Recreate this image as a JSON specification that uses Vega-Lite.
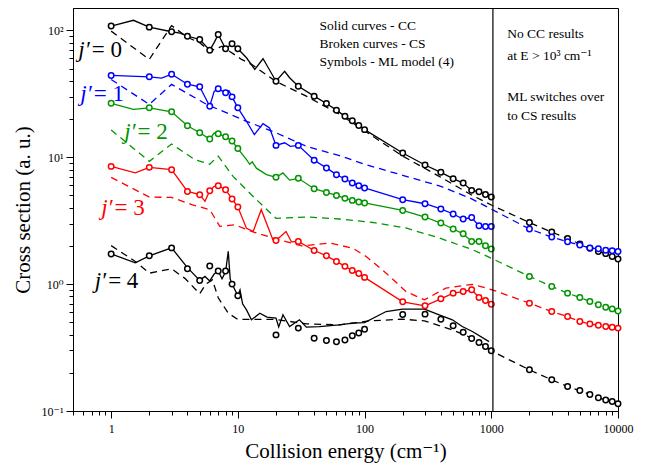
{
"$schema":"https://vega.github.io/schema/vega-lite/v6.json",
"width":545,"height":403,"autosize":"none",
"padding":{"left":73,"top":8,"right":27,"bottom":55},
"background":"white",
"config":{"view":{"stroke":"black","strokeWidth":1},"font":"Times New Roman, Liberation Serif, DejaVu Serif, serif","text":{"font":"Times New Roman, Liberation Serif, DejaVu Serif, serif"}},
"datasets":{
"pts":[
{"E":1,"s":108,"j":"0","t":"ML"},{"E":2,"s":106,"j":"0","t":"ML"},{"E":3,"s":97.5,"j":"0","t":"ML"},{"E":4,"s":90,"j":"0","t":"ML"},{"E":5,"s":84.7,"j":"0","t":"ML"},{"E":6,"s":69.8,"j":"0","t":"ML"},{"E":7,"s":92.9,"j":"0","t":"ML"},{"E":8,"s":71.6,"j":"0","t":"ML"},{"E":9,"s":78.4,"j":"0","t":"ML"},{"E":10,"s":71.6,"j":"0","t":"ML"},{"E":20,"s":39.7,"j":"0","t":"ML"},{"E":30,"s":36.3,"j":"0","t":"ML"},{"E":40,"s":30.3,"j":"0","t":"ML"},{"E":50,"s":26.5,"j":"0","t":"ML"},{"E":60,"s":23.5,"j":"0","t":"ML"},{"E":70,"s":21,"j":"0","t":"ML"},{"E":80,"s":19.4,"j":"0","t":"ML"},{"E":90,"s":17.8,"j":"0","t":"ML"},{"E":100,"s":16.5,"j":"0","t":"ML"},{"E":200,"s":10.8,"j":"0","t":"ML"},{"E":300,"s":8.69,"j":"0","t":"ML"},{"E":400,"s":7.6,"j":"0","t":"ML"},{"E":500,"s":6.78,"j":"0","t":"ML"},{"E":600,"s":6.26,"j":"0","t":"ML"},{"E":700,"s":5.48,"j":"0","t":"ML"},{"E":800,"s":5.35,"j":"0","t":"ML"},{"E":900,"s":5.09,"j":"0","t":"ML"},{"E":1000,"s":4.86,"j":"0","t":"ML"},{"E":2000,"s":3.06,"j":"0","t":"ML"},{"E":3000,"s":2.57,"j":"0","t":"ML"},{"E":4000,"s":2.29,"j":"0","t":"ML"},{"E":5000,"s":2.07,"j":"0","t":"ML"},{"E":6000,"s":1.92,"j":"0","t":"ML"},{"E":7000,"s":1.81,"j":"0","t":"ML"},{"E":8000,"s":1.74,"j":"0","t":"ML"},{"E":9000,"s":1.65,"j":"0","t":"ML"},{"E":10000,"s":1.58,"j":"0","t":"ML"},
{"E":1,"s":108,"j":"0","t":"CC"},{"E":1.5,"s":120,"j":"0","t":"CC"},{"E":2,"s":106,"j":"0","t":"CC"},{"E":3,"s":97.5,"j":"0","t":"CC"},{"E":3.5,"s":95,"j":"0","t":"CC"},{"E":4,"s":90,"j":"0","t":"CC"},{"E":5,"s":84.7,"j":"0","t":"CC"},{"E":6,"s":69.8,"j":"0","t":"CC"},{"E":6.5,"s":80,"j":"0","t":"CC"},{"E":7,"s":92.9,"j":"0","t":"CC"},{"E":8,"s":71.6,"j":"0","t":"CC"},{"E":9,"s":78.4,"j":"0","t":"CC"},{"E":10,"s":71.6,"j":"0","t":"CC"},{"E":11.7,"s":60.8,"j":"0","t":"CC"},{"E":13.6,"s":49.2,"j":"0","t":"CC"},{"E":15.8,"s":59.7,"j":"0","t":"CC"},{"E":16.8,"s":53.8,"j":"0","t":"CC"},{"E":20,"s":39.7,"j":"0","t":"CC"},{"E":23.4,"s":47.6,"j":"0","t":"CC"},{"E":25.6,"s":42.3,"j":"0","t":"CC"},{"E":30,"s":36.3,"j":"0","t":"CC"},{"E":40,"s":30.3,"j":"0","t":"CC"},{"E":50,"s":26.5,"j":"0","t":"CC"},{"E":60,"s":23.5,"j":"0","t":"CC"},{"E":70,"s":21,"j":"0","t":"CC"},{"E":80,"s":19.4,"j":"0","t":"CC"},{"E":90,"s":17.8,"j":"0","t":"CC"},{"E":100,"s":16.5,"j":"0","t":"CC"},{"E":200,"s":10.8,"j":"0","t":"CC"},{"E":300,"s":8.69,"j":"0","t":"CC"},{"E":400,"s":7.6,"j":"0","t":"CC"},{"E":500,"s":6.78,"j":"0","t":"CC"},{"E":600,"s":6.26,"j":"0","t":"CC"},{"E":700,"s":5.48,"j":"0","t":"CC"},{"E":800,"s":5.35,"j":"0","t":"CC"},{"E":900,"s":5.09,"j":"0","t":"CC"},{"E":1000,"s":4.86,"j":"0","t":"CC"},
{"E":1,"s":98.6,"j":"0","t":"CS"},{"E":2,"s":59,"j":"0","t":"CS"},{"E":3,"s":109,"j":"0","t":"CS"},{"E":4,"s":88,"j":"0","t":"CS"},{"E":5,"s":80,"j":"0","t":"CS"},{"E":6,"s":68.5,"j":"0","t":"CS"},{"E":7.5,"s":75,"j":"0","t":"CS"},{"E":10.7,"s":59,"j":"0","t":"CS"},{"E":12.8,"s":54,"j":"0","t":"CS"},{"E":20,"s":39.5,"j":"0","t":"CS"},{"E":34.7,"s":30.3,"j":"0","t":"CS"},{"E":63.4,"s":21.8,"j":"0","t":"CS"},{"E":96.7,"s":16.5,"j":"0","t":"CS"},{"E":200,"s":10.2,"j":"0","t":"CS"},{"E":388,"s":7.07,"j":"0","t":"CS"},{"E":709,"s":5.0,"j":"0","t":"CS"},{"E":1000,"s":4.2,"j":"0","t":"CS"},{"E":2000,"s":3.06,"j":"0","t":"CS"},{"E":3000,"s":2.57,"j":"0","t":"CS"},{"E":4000,"s":2.29,"j":"0","t":"CS"},{"E":5000,"s":2.07,"j":"0","t":"CS"},{"E":6000,"s":1.92,"j":"0","t":"CS"},{"E":7000,"s":1.81,"j":"0","t":"CS"},{"E":8000,"s":1.74,"j":"0","t":"CS"},{"E":9000,"s":1.65,"j":"0","t":"CS"},{"E":10000,"s":1.58,"j":"0","t":"CS"},

{"E":1,"s":44.1,"j":"1","t":"ML"},{"E":2,"s":43,"j":"1","t":"ML"},{"E":3,"s":45.1,"j":"1","t":"ML"},{"E":4,"s":37.6,"j":"1","t":"ML"},{"E":5,"s":35.9,"j":"1","t":"ML"},{"E":6,"s":25.2,"j":"1","t":"ML"},{"E":7,"s":34.6,"j":"1","t":"ML"},{"E":8,"s":32.2,"j":"1","t":"ML"},{"E":9,"s":29.9,"j":"1","t":"ML"},{"E":10,"s":24.5,"j":"1","t":"ML"},{"E":20,"s":12.4,"j":"1","t":"ML"},{"E":30,"s":12.4,"j":"1","t":"ML"},{"E":40,"s":9.46,"j":"1","t":"ML"},{"E":50,"s":8.24,"j":"1","t":"ML"},{"E":60,"s":7.29,"j":"1","t":"ML"},{"E":70,"s":6.74,"j":"1","t":"ML"},{"E":80,"s":6.27,"j":"1","t":"ML"},{"E":90,"s":5.97,"j":"1","t":"ML"},{"E":100,"s":5.73,"j":"1","t":"ML"},{"E":200,"s":4.63,"j":"1","t":"ML"},{"E":300,"s":4.3,"j":"1","t":"ML"},{"E":400,"s":3.91,"j":"1","t":"ML"},{"E":500,"s":3.57,"j":"1","t":"ML"},{"E":600,"s":3.26,"j":"1","t":"ML"},{"E":700,"s":3.35,"j":"1","t":"ML"},{"E":800,"s":2.88,"j":"1","t":"ML"},{"E":900,"s":2.85,"j":"1","t":"ML"},{"E":1000,"s":2.85,"j":"1","t":"ML"},{"E":2000,"s":2.72,"j":"1","t":"ML"},{"E":3000,"s":2.35,"j":"1","t":"ML"},{"E":4000,"s":2.16,"j":"1","t":"ML"},{"E":5000,"s":2.03,"j":"1","t":"ML"},{"E":6000,"s":1.93,"j":"1","t":"ML"},{"E":7000,"s":1.9,"j":"1","t":"ML"},{"E":8000,"s":1.85,"j":"1","t":"ML"},{"E":9000,"s":1.83,"j":"1","t":"ML"},{"E":10000,"s":1.81,"j":"1","t":"ML"},
{"E":1,"s":44.1,"j":"1","t":"CC"},{"E":2,"s":43,"j":"1","t":"CC"},{"E":2.5,"s":42,"j":"1","t":"CC"},{"E":3,"s":45.1,"j":"1","t":"CC"},{"E":4,"s":37.6,"j":"1","t":"CC"},{"E":5,"s":35.9,"j":"1","t":"CC"},{"E":6,"s":25.2,"j":"1","t":"CC"},{"E":6.5,"s":33,"j":"1","t":"CC"},{"E":7,"s":34.6,"j":"1","t":"CC"},{"E":8,"s":32.2,"j":"1","t":"CC"},{"E":8.5,"s":33.5,"j":"1","t":"CC"},{"E":9,"s":29.9,"j":"1","t":"CC"},{"E":10,"s":24.5,"j":"1","t":"CC"},{"E":11.7,"s":19.2,"j":"1","t":"CC"},{"E":13.5,"s":15.1,"j":"1","t":"CC"},{"E":15.8,"s":18.4,"j":"1","t":"CC"},{"E":17.8,"s":17,"j":"1","t":"CC"},{"E":20,"s":12.4,"j":"1","t":"CC"},{"E":23.4,"s":13,"j":"1","t":"CC"},{"E":26,"s":12.2,"j":"1","t":"CC"},{"E":30,"s":12.4,"j":"1","t":"CC"},{"E":40,"s":9.46,"j":"1","t":"CC"},{"E":50,"s":8.24,"j":"1","t":"CC"},{"E":60,"s":7.29,"j":"1","t":"CC"},{"E":70,"s":6.74,"j":"1","t":"CC"},{"E":80,"s":6.27,"j":"1","t":"CC"},{"E":90,"s":5.97,"j":"1","t":"CC"},{"E":100,"s":5.73,"j":"1","t":"CC"},{"E":200,"s":4.63,"j":"1","t":"CC"},{"E":300,"s":4.3,"j":"1","t":"CC"},{"E":400,"s":3.91,"j":"1","t":"CC"},{"E":500,"s":3.57,"j":"1","t":"CC"},{"E":600,"s":3.26,"j":"1","t":"CC"},{"E":700,"s":3.35,"j":"1","t":"CC"},{"E":800,"s":2.88,"j":"1","t":"CC"},{"E":900,"s":2.85,"j":"1","t":"CC"},{"E":1000,"s":2.85,"j":"1","t":"CC"},
{"E":1,"s":41,"j":"1","t":"CS"},{"E":2,"s":26.1,"j":"1","t":"CS"},{"E":3,"s":37.5,"j":"1","t":"CS"},{"E":5.66,"s":26.1,"j":"1","t":"CS"},{"E":11.7,"s":19.2,"j":"1","t":"CS"},{"E":20,"s":15.6,"j":"1","t":"CS"},{"E":34.7,"s":12.2,"j":"1","t":"CS"},{"E":63.4,"s":10.3,"j":"1","t":"CS"},{"E":100,"s":8.8,"j":"1","t":"CS"},{"E":200,"s":7.2,"j":"1","t":"CS"},{"E":400,"s":5.9,"j":"1","t":"CS"},{"E":700,"s":4.7,"j":"1","t":"CS"},{"E":1000,"s":3.9,"j":"1","t":"CS"},{"E":2000,"s":2.72,"j":"1","t":"CS"},{"E":3000,"s":2.35,"j":"1","t":"CS"},{"E":4000,"s":2.16,"j":"1","t":"CS"},{"E":5000,"s":2.03,"j":"1","t":"CS"},{"E":6000,"s":1.93,"j":"1","t":"CS"},{"E":7000,"s":1.9,"j":"1","t":"CS"},{"E":8000,"s":1.85,"j":"1","t":"CS"},{"E":9000,"s":1.83,"j":"1","t":"CS"},{"E":10000,"s":1.81,"j":"1","t":"CS"},

{"E":1,"s":26.6,"j":"2","t":"ML"},{"E":2,"s":24.5,"j":"2","t":"ML"},{"E":3,"s":22.8,"j":"2","t":"ML"},{"E":4,"s":17.7,"j":"2","t":"ML"},{"E":5,"s":15.6,"j":"2","t":"ML"},{"E":6,"s":13.9,"j":"2","t":"ML"},{"E":7,"s":15.3,"j":"2","t":"ML"},{"E":8,"s":14.5,"j":"2","t":"ML"},{"E":9,"s":13.4,"j":"2","t":"ML"},{"E":10,"s":11.7,"j":"2","t":"ML"},{"E":20,"s":6.95,"j":"2","t":"ML"},{"E":30,"s":6.82,"j":"2","t":"ML"},{"E":40,"s":5.65,"j":"2","t":"ML"},{"E":50,"s":5.28,"j":"2","t":"ML"},{"E":60,"s":5,"j":"2","t":"ML"},{"E":70,"s":4.74,"j":"2","t":"ML"},{"E":80,"s":4.57,"j":"2","t":"ML"},{"E":90,"s":4.44,"j":"2","t":"ML"},{"E":100,"s":4.36,"j":"2","t":"ML"},{"E":200,"s":3.81,"j":"2","t":"ML"},{"E":300,"s":3.38,"j":"2","t":"ML"},{"E":400,"s":3.03,"j":"2","t":"ML"},{"E":500,"s":2.72,"j":"2","t":"ML"},{"E":600,"s":2.49,"j":"2","t":"ML"},{"E":700,"s":2.17,"j":"2","t":"ML"},{"E":800,"s":2.17,"j":"2","t":"ML"},{"E":900,"s":2.01,"j":"2","t":"ML"},{"E":1000,"s":1.89,"j":"2","t":"ML"},{"E":2000,"s":1.15,"j":"2","t":"ML"},{"E":3000,"s":0.957,"j":"2","t":"ML"},{"E":4000,"s":0.849,"j":"2","t":"ML"},{"E":5000,"s":0.784,"j":"2","t":"ML"},{"E":6000,"s":0.729,"j":"2","t":"ML"},{"E":7000,"s":0.687,"j":"2","t":"ML"},{"E":8000,"s":0.658,"j":"2","t":"ML"},{"E":9000,"s":0.638,"j":"2","t":"ML"},{"E":10000,"s":0.615,"j":"2","t":"ML"},
{"E":1,"s":26.6,"j":"2","t":"CC"},{"E":1.5,"s":23.8,"j":"2","t":"CC"},{"E":2,"s":24.5,"j":"2","t":"CC"},{"E":3,"s":22.8,"j":"2","t":"CC"},{"E":4,"s":17.7,"j":"2","t":"CC"},{"E":5,"s":15.6,"j":"2","t":"CC"},{"E":6,"s":13.9,"j":"2","t":"CC"},{"E":6.5,"s":15.5,"j":"2","t":"CC"},{"E":7,"s":15.3,"j":"2","t":"CC"},{"E":8,"s":14.5,"j":"2","t":"CC"},{"E":9,"s":13.4,"j":"2","t":"CC"},{"E":10,"s":11.7,"j":"2","t":"CC"},{"E":11.7,"s":9.57,"j":"2","t":"CC"},{"E":12.4,"s":8.8,"j":"2","t":"CC"},{"E":13,"s":9.2,"j":"2","t":"CC"},{"E":14,"s":8.2,"j":"2","t":"CC"},{"E":16.8,"s":7.29,"j":"2","t":"CC"},{"E":20,"s":6.95,"j":"2","t":"CC"},{"E":22.7,"s":7.52,"j":"2","t":"CC"},{"E":25.6,"s":6.6,"j":"2","t":"CC"},{"E":30,"s":6.82,"j":"2","t":"CC"},{"E":40,"s":5.65,"j":"2","t":"CC"},{"E":50,"s":5.28,"j":"2","t":"CC"},{"E":60,"s":5,"j":"2","t":"CC"},{"E":70,"s":4.74,"j":"2","t":"CC"},{"E":80,"s":4.57,"j":"2","t":"CC"},{"E":90,"s":4.44,"j":"2","t":"CC"},{"E":100,"s":4.36,"j":"2","t":"CC"},{"E":200,"s":3.81,"j":"2","t":"CC"},{"E":300,"s":3.38,"j":"2","t":"CC"},{"E":400,"s":3.03,"j":"2","t":"CC"},{"E":500,"s":2.72,"j":"2","t":"CC"},{"E":600,"s":2.49,"j":"2","t":"CC"},{"E":700,"s":2.17,"j":"2","t":"CC"},{"E":800,"s":2.17,"j":"2","t":"CC"},{"E":900,"s":2.01,"j":"2","t":"CC"},{"E":1000,"s":1.89,"j":"2","t":"CC"},
{"E":1,"s":16.4,"j":"2","t":"CS"},{"E":2,"s":9.28,"j":"2","t":"CS"},{"E":3,"s":12.7,"j":"2","t":"CS"},{"E":4.58,"s":9.57,"j":"2","t":"CS"},{"E":6,"s":8.82,"j":"2","t":"CS"},{"E":7,"s":10.2,"j":"2","t":"CS"},{"E":9.16,"s":7.07,"j":"2","t":"CS"},{"E":13.2,"s":4.91,"j":"2","t":"CS"},{"E":20,"s":3.3,"j":"2","t":"CS"},{"E":34.7,"s":3.38,"j":"2","t":"CS"},{"E":63.4,"s":3.26,"j":"2","t":"CS"},{"E":116,"s":3.06,"j":"2","t":"CS"},{"E":212,"s":2.77,"j":"2","t":"CS"},{"E":388,"s":2.31,"j":"2","t":"CS"},{"E":709,"s":1.87,"j":"2","t":"CS"},{"E":1000,"s":1.6,"j":"2","t":"CS"},{"E":2000,"s":1.15,"j":"2","t":"CS"},{"E":3000,"s":0.957,"j":"2","t":"CS"},{"E":4000,"s":0.849,"j":"2","t":"CS"},{"E":5000,"s":0.784,"j":"2","t":"CS"},{"E":6000,"s":0.729,"j":"2","t":"CS"},{"E":7000,"s":0.687,"j":"2","t":"CS"},{"E":8000,"s":0.658,"j":"2","t":"CS"},{"E":9000,"s":0.638,"j":"2","t":"CS"},{"E":10000,"s":0.615,"j":"2","t":"CS"},

{"E":1,"s":8.47,"j":"3","t":"ML"},{"E":2,"s":8.32,"j":"3","t":"ML"},{"E":3,"s":7.98,"j":"3","t":"ML"},{"E":4,"s":5.38,"j":"3","t":"ML"},{"E":5,"s":5.07,"j":"3","t":"ML"},{"E":6,"s":5.45,"j":"3","t":"ML"},{"E":7,"s":5.97,"j":"3","t":"ML"},{"E":8,"s":5.55,"j":"3","t":"ML"},{"E":9,"s":4.69,"j":"3","t":"ML"},{"E":10,"s":4.05,"j":"3","t":"ML"},{"E":20,"s":2.21,"j":"3","t":"ML"},{"E":30,"s":2.17,"j":"3","t":"ML"},{"E":40,"s":1.84,"j":"3","t":"ML"},{"E":50,"s":1.67,"j":"3","t":"ML"},{"E":60,"s":1.51,"j":"3","t":"ML"},{"E":70,"s":1.38,"j":"3","t":"ML"},{"E":80,"s":1.28,"j":"3","t":"ML"},{"E":90,"s":1.21,"j":"3","t":"ML"},{"E":100,"s":1.13,"j":"3","t":"ML"},{"E":200,"s":0.725,"j":"3","t":"ML"},{"E":300,"s":0.674,"j":"3","t":"ML"},{"E":400,"s":0.766,"j":"3","t":"ML"},{"E":500,"s":0.849,"j":"3","t":"ML"},{"E":600,"s":0.874,"j":"3","t":"ML"},{"E":700,"s":0.902,"j":"3","t":"ML"},{"E":800,"s":0.784,"j":"3","t":"ML"},{"E":900,"s":0.743,"j":"3","t":"ML"},{"E":1000,"s":0.695,"j":"3","t":"ML"},{"E":2000,"s":0.708,"j":"3","t":"ML"},{"E":3000,"s":0.608,"j":"3","t":"ML"},{"E":4000,"s":0.555,"j":"3","t":"ML"},{"E":5000,"s":0.507,"j":"3","t":"ML"},{"E":6000,"s":0.486,"j":"3","t":"ML"},{"E":7000,"s":0.474,"j":"3","t":"ML"},{"E":8000,"s":0.463,"j":"3","t":"ML"},{"E":9000,"s":0.458,"j":"3","t":"ML"},{"E":10000,"s":0.45,"j":"3","t":"ML"},
{"E":1,"s":8.47,"j":"3","t":"CC"},{"E":1.55,"s":7.52,"j":"3","t":"CC"},{"E":2,"s":8.32,"j":"3","t":"CC"},{"E":3,"s":7.98,"j":"3","t":"CC"},{"E":4,"s":5.38,"j":"3","t":"CC"},{"E":5,"s":5.07,"j":"3","t":"CC"},{"E":5.5,"s":4.49,"j":"3","t":"CC"},{"E":6,"s":5.45,"j":"3","t":"CC"},{"E":6.5,"s":5.9,"j":"3","t":"CC"},{"E":7,"s":5.97,"j":"3","t":"CC"},{"E":8,"s":5.55,"j":"3","t":"CC"},{"E":9,"s":4.69,"j":"3","t":"CC"},{"E":10,"s":4.05,"j":"3","t":"CC"},{"E":11.7,"s":2.75,"j":"3","t":"CC"},{"E":13.2,"s":2.6,"j":"3","t":"CC"},{"E":15.3,"s":3.86,"j":"3","t":"CC"},{"E":18.9,"s":2.24,"j":"3","t":"CC"},{"E":20,"s":2.21,"j":"3","t":"CC"},{"E":24,"s":2.6,"j":"3","t":"CC"},{"E":26.5,"s":2.15,"j":"3","t":"CC"},{"E":30,"s":2.17,"j":"3","t":"CC"},{"E":40,"s":1.84,"j":"3","t":"CC"},{"E":50,"s":1.67,"j":"3","t":"CC"},{"E":60,"s":1.51,"j":"3","t":"CC"},{"E":70,"s":1.38,"j":"3","t":"CC"},{"E":80,"s":1.28,"j":"3","t":"CC"},{"E":90,"s":1.21,"j":"3","t":"CC"},{"E":100,"s":1.13,"j":"3","t":"CC"},{"E":200,"s":0.725,"j":"3","t":"CC"},{"E":300,"s":0.674,"j":"3","t":"CC"},{"E":400,"s":0.766,"j":"3","t":"CC"},{"E":500,"s":0.849,"j":"3","t":"CC"},{"E":600,"s":0.874,"j":"3","t":"CC"},{"E":700,"s":0.902,"j":"3","t":"CC"},{"E":800,"s":0.784,"j":"3","t":"CC"},{"E":900,"s":0.743,"j":"3","t":"CC"},{"E":1000,"s":0.695,"j":"3","t":"CC"},
{"E":1,"s":6.93,"j":"3","t":"CS"},{"E":2,"s":4.86,"j":"3","t":"CS"},{"E":3,"s":4.82,"j":"3","t":"CS"},{"E":4.38,"s":4.22,"j":"3","t":"CS"},{"E":6,"s":3.86,"j":"3","t":"CS"},{"E":6.7,"s":3.22,"j":"3","t":"CS"},{"E":7.2,"s":2.85,"j":"3","t":"CS"},{"E":9.46,"s":2.94,"j":"3","t":"CS"},{"E":12.8,"s":2.6,"j":"3","t":"CS"},{"E":18.9,"s":2.31,"j":"3","t":"CS"},{"E":32,"s":2.0,"j":"3","t":"CS"},{"E":52.9,"s":2.11,"j":"3","t":"CS"},{"E":80.6,"s":1.92,"j":"3","t":"CS"},{"E":103,"s":1.65,"j":"3","t":"CS"},{"E":148,"s":1.22,"j":"3","t":"CS"},{"E":212,"s":0.874,"j":"3","t":"CS"},{"E":297,"s":0.752,"j":"3","t":"CS"},{"E":438,"s":0.93,"j":"3","t":"CS"},{"E":709,"s":0.996,"j":"3","t":"CS"},{"E":1018,"s":0.902,"j":"3","t":"CS"},{"E":2000,"s":0.708,"j":"3","t":"CS"},{"E":3000,"s":0.608,"j":"3","t":"CS"},{"E":4000,"s":0.555,"j":"3","t":"CS"},{"E":5000,"s":0.507,"j":"3","t":"CS"},{"E":6000,"s":0.486,"j":"3","t":"CS"},{"E":7000,"s":0.474,"j":"3","t":"CS"},{"E":8000,"s":0.463,"j":"3","t":"CS"},{"E":9000,"s":0.458,"j":"3","t":"CS"},{"E":10000,"s":0.45,"j":"3","t":"CS"},

{"E":1,"s":1.73,"j":"4","t":"ML"},{"E":2,"s":1.67,"j":"4","t":"ML"},{"E":3,"s":1.93,"j":"4","t":"ML"},{"E":4,"s":1.32,"j":"4","t":"ML"},{"E":5,"s":1.07,"j":"4","t":"ML"},{"E":6,"s":1.39,"j":"4","t":"ML"},{"E":7,"s":1.27,"j":"4","t":"ML"},{"E":8,"s":1.27,"j":"4","t":"ML"},{"E":9,"s":1.0,"j":"4","t":"ML"},{"E":10,"s":0.809,"j":"4","t":"ML"},{"E":20,"s":0.398,"j":"4","t":"ML"},{"E":30,"s":0.45,"j":"4","t":"ML"},{"E":40,"s":0.375,"j":"4","t":"ML"},{"E":50,"s":0.359,"j":"4","t":"ML"},{"E":60,"s":0.351,"j":"4","t":"ML"},{"E":70,"s":0.363,"j":"4","t":"ML"},{"E":80,"s":0.391,"j":"4","t":"ML"},{"E":90,"s":0.411,"j":"4","t":"ML"},{"E":100,"s":0.441,"j":"4","t":"ML"},{"E":200,"s":0.575,"j":"4","t":"ML"},{"E":300,"s":0.58,"j":"4","t":"ML"},{"E":400,"s":0.529,"j":"4","t":"ML"},{"E":500,"s":0.469,"j":"4","t":"ML"},{"E":600,"s":0.418,"j":"4","t":"ML"},{"E":700,"s":0.372,"j":"4","t":"ML"},{"E":800,"s":0.346,"j":"4","t":"ML"},{"E":900,"s":0.322,"j":"4","t":"ML"},{"E":1000,"s":0.298,"j":"4","t":"ML"},{"E":2000,"s":0.211,"j":"4","t":"ML"},{"E":3000,"s":0.176,"j":"4","t":"ML"},{"E":4000,"s":0.156,"j":"4","t":"ML"},{"E":5000,"s":0.145,"j":"4","t":"ML"},{"E":6000,"s":0.135,"j":"4","t":"ML"},{"E":7000,"s":0.127,"j":"4","t":"ML"},{"E":8000,"s":0.122,"j":"4","t":"ML"},{"E":9000,"s":0.119,"j":"4","t":"ML"},{"E":10000,"s":0.114,"j":"4","t":"ML"},
{"E":1,"s":1.73,"j":"4","t":"CC"},{"E":1.55,"s":1.47,"j":"4","t":"CC"},{"E":2,"s":1.67,"j":"4","t":"CC"},{"E":3,"s":1.93,"j":"4","t":"CC"},{"E":4,"s":1.35,"j":"4","t":"CC"},{"E":5,"s":1.07,"j":"4","t":"CC"},{"E":5.5,"s":1.15,"j":"4","t":"CC"},{"E":6,"s":1.06,"j":"4","t":"CC"},{"E":6.5,"s":1.2,"j":"4","t":"CC"},{"E":7,"s":1.27,"j":"4","t":"CC"},{"E":7.5,"s":1.1,"j":"4","t":"CC"},{"E":8,"s":1.25,"j":"4","t":"CC"},{"E":8.4,"s":1.81,"j":"4","t":"CC"},{"E":8.7,"s":1.1,"j":"4","t":"CC"},{"E":9,"s":1.0,"j":"4","t":"CC"},{"E":10,"s":0.809,"j":"4","t":"CC"},{"E":10.4,"s":0.9,"j":"4","t":"CC"},{"E":10.9,"s":0.7,"j":"4","t":"CC"},{"E":11.7,"s":0.627,"j":"4","t":"CC"},{"E":12.8,"s":0.523,"j":"4","t":"CC"},{"E":14.9,"s":0.59,"j":"4","t":"CC"},{"E":17,"s":0.55,"j":"4","t":"CC"},{"E":20,"s":0.539,"j":"4","t":"CC"},{"E":21,"s":0.46,"j":"4","t":"CC"},{"E":22.7,"s":0.573,"j":"4","t":"CC"},{"E":25.6,"s":0.463,"j":"4","t":"CC"},{"E":30.6,"s":0.523,"j":"4","t":"CC"},{"E":34.7,"s":0.458,"j":"4","t":"CC"},{"E":44,"s":0.463,"j":"4","t":"CC"},{"E":63,"s":0.477,"j":"4","t":"CC"},{"E":80.6,"s":0.492,"j":"4","t":"CC"},{"E":100,"s":0.497,"j":"4","t":"CC"},{"E":148,"s":0.608,"j":"4","t":"CC"},{"E":199,"s":0.635,"j":"4","t":"CC"},{"E":297,"s":0.635,"j":"4","t":"CC"},{"E":388,"s":0.573,"j":"4","t":"CC"},{"E":493,"s":0.523,"j":"4","t":"CC"},{"E":590,"s":0.463,"j":"4","t":"CC"},{"E":709,"s":0.423,"j":"4","t":"CC"},{"E":960,"s":0.352,"j":"4","t":"CC"},
{"E":1,"s":2.01,"j":"4","t":"CS"},{"E":1.55,"s":1.51,"j":"4","t":"CS"},{"E":2,"s":1.22,"j":"4","t":"CS"},{"E":3,"s":1.32,"j":"4","t":"CS"},{"E":3.82,"s":1.11,"j":"4","t":"CS"},{"E":5,"s":0.84,"j":"4","t":"CS"},{"E":5.6,"s":1.0,"j":"4","t":"CS"},{"E":6.3,"s":1.08,"j":"4","t":"CS"},{"E":7,"s":0.78,"j":"4","t":"CS"},{"E":8.4,"s":0.59,"j":"4","t":"CS"},{"E":10,"s":0.527,"j":"4","t":"CS"},{"E":20,"s":0.527,"j":"4","t":"CS"},{"E":34.7,"s":0.486,"j":"4","t":"CS"},{"E":63.4,"s":0.477,"j":"4","t":"CS"},{"E":109,"s":0.513,"j":"4","t":"CS"},{"E":199,"s":0.529,"j":"4","t":"CS"},{"E":297,"s":0.513,"j":"4","t":"CS"},{"E":493,"s":0.436,"j":"4","t":"CS"},{"E":709,"s":0.375,"j":"4","t":"CS"},{"E":1000,"s":0.298,"j":"4","t":"CS"},{"E":2000,"s":0.211,"j":"4","t":"CS"},{"E":3000,"s":0.176,"j":"4","t":"CS"},{"E":4000,"s":0.156,"j":"4","t":"CS"},{"E":5000,"s":0.145,"j":"4","t":"CS"},{"E":6000,"s":0.135,"j":"4","t":"CS"},{"E":7000,"s":0.127,"j":"4","t":"CS"},{"E":8000,"s":0.122,"j":"4","t":"CS"},{"E":9000,"s":0.119,"j":"4","t":"CS"},{"E":10000,"s":0.114,"j":"4","t":"CS"}
],
"notes":[
{"E":44.1,"s":108,"txt":"Solid curves - CC"},
{"E":44.1,"s":78.4,"txt":"Broken curves - CS"},
{"E":44.1,"s":56.1,"txt":"Symbols - ML model (4)"},
{"E":1336,"s":94,"txt":"No CC results"},
{"E":1336,"s":62.6,"txt":"at E > 10³ cm⁻¹"},
{"E":1336,"s":29.7,"txt":"ML switches over"},
{"E":1336,"s":21,"txt":"to CS results"}
],
"jl":[
{"E":0.69,"s":61.1,"n":"= 0","j":"0"},
{"E":0.715,"s":27.6,"n":"= 1","j":"1"},
{"E":1.587,"s":13.8,"n":"= 2","j":"2"},
{"E":1.046,"s":3.52,"n":"= 3","j":"3"},
{"E":0.93,"s":0.93,"n":"= 4","j":"4"}
],
"vline":[{"E":1030,"s":0.1,"s2":150}]
},
"encoding":{
"x":{"field":"E","type":"quantitative","title":"Collision energy (cm⁻¹)",
 "scale":{"type":"log","domain":[0.5,10000],"nice":false},
 "axis":{"values":[0.5,0.6,0.7,0.8,0.9,1,2,3,4,5,6,7,8,9,10,20,30,40,50,60,70,80,90,100,200,300,400,500,600,700,800,900,1000,2000,3000,4000,5000,6000,7000,8000,9000,10000],
  "labelExpr":"datum.value==1?'1':datum.value==10?'10':datum.value==100?'100':datum.value==1000?'1000':datum.value==10000?'10000':''",
  "tickSize":{"condition":{"test":"indexof([1,10,100,1000,10000], datum.value) >= 0","value":7},"value":4},
  "grid":false,"domainColor":"black","tickColor":"black","labelColor":"black","labelFont":"Times New Roman, Liberation Serif, DejaVu Serif, serif","labelFontSize":12,"labelPadding":5,"labelOverlap":false,"labelFlush":false,
  "titleFont":"Times New Roman, Liberation Serif, DejaVu Serif, serif","titleFontSize":21,"titleFontWeight":"normal","titleColor":"black","titlePadding":6}},
"y":{"field":"s","type":"quantitative","title":"Cross section (a. u.)",
 "scale":{"type":"log","domain":[0.1,150],"nice":false},
 "axis":{"values":[0.1,0.2,0.3,0.4,0.5,0.6,0.7,0.8,0.9,1,2,3,4,5,6,7,8,9,10,20,30,40,50,60,70,80,90,100],
  "labelExpr":"datum.value==0.1?'10⁻¹':datum.value==1?'10⁰':datum.value==10?'10¹':datum.value==100?'10²':''",
  "tickSize":{"condition":{"test":"indexof([0.1,1,10,100], datum.value) >= 0","value":7},"value":4},
  "grid":false,"domainColor":"black","tickColor":"black","labelColor":"black","labelFont":"Times New Roman, Liberation Serif, DejaVu Serif, serif","labelFontSize":12,"labelPadding":3,"labelOverlap":false,"labelFlush":false,
  "titleFont":"Times New Roman, Liberation Serif, DejaVu Serif, serif","titleFontSize":21,"titleFontWeight":"normal","titleColor":"black","titlePadding":8}}
},
"layer":[
{"data":{"name":"pts"},"transform":[{"filter":"datum.t=='CS'"}],
 "mark":{"type":"line","strokeWidth":1.3,"strokeDash":[7,5],"clip":true},
 "encoding":{"color":{"field":"j","type":"nominal","scale":{"domain":["0","1","2","3","4"],"range":["black","blue","#009600","red","black"]},"legend":null}}},
{"data":{"name":"pts"},"transform":[{"filter":"datum.t=='CC'"}],
 "mark":{"type":"line","strokeWidth":1.3,"clip":true},
 "encoding":{"color":{"field":"j","type":"nominal","scale":{"domain":["0","1","2","3","4"],"range":["black","blue","#009600","red","black"]},"legend":null}}},
{"data":{"name":"pts"},"transform":[{"filter":"datum.t=='ML'"}],
 "mark":{"type":"point","shape":"circle","size":30,"strokeWidth":1.5,"fill":"white","fillOpacity":1,"opacity":1},
 "encoding":{"stroke":{"field":"j","type":"nominal","scale":{"domain":["0","1","2","3","4"],"range":["black","blue","#009600","red","black"]},"legend":null}}},
{"data":{"name":"vline"},"mark":{"type":"rule","color":"black","strokeWidth":1.2},
 "encoding":{"y2":{"field":"s2"}}},
{"data":{"name":"notes"},"mark":{"type":"text","align":"left","baseline":"middle","fontSize":13.5,"font":"Times New Roman, Liberation Serif, DejaVu Serif, serif","color":"black"},
 "encoding":{"text":{"field":"txt"}}},
{"data":{"name":"jl"},"mark":{"type":"text","text":"j′","align":"right","baseline":"alphabetic","fontSize":23,"fontStyle":"italic","font":"Times New Roman, Liberation Serif, DejaVu Serif, serif","dx":-1},
 "encoding":{"color":{"field":"j","type":"nominal","scale":{"domain":["0","1","2","3","4"],"range":["black","blue","#009600","red","black"]},"legend":null}}},
{"data":{"name":"jl"},"mark":{"type":"text","align":"left","baseline":"alphabetic","fontSize":23,"font":"Times New Roman, Liberation Serif, DejaVu Serif, serif","dx":1},
 "encoding":{"text":{"field":"n"},"color":{"field":"j","type":"nominal","scale":{"domain":["0","1","2","3","4"],"range":["black","blue","#009600","red","black"]},"legend":null}}}
]
}
